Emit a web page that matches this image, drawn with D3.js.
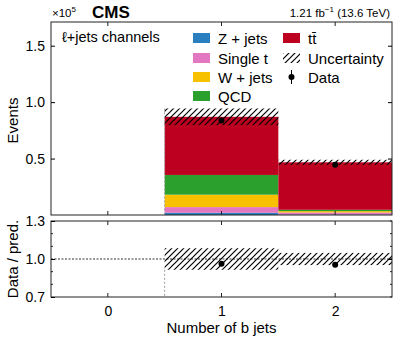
<!DOCTYPE html>
<html>
<head>
<meta charset="utf-8">
<script src="https://cdn.jsdelivr.net/npm/d3@7"></script>
<style>
  body { margin: 0; background: #fff; }
  text { font-family: "Liberation Sans", Arial, sans-serif; fill: #000; }
</style>
</head>
<body>
<div id="chart"></div>
<script>
// values in units of 1e5 events
const bins = [0, 1, 2];
const zjets = [0, 0.020, 0.004];
const singleT = [0, 0.050, 0.018];
const wjets = [0, 0.110, 0.012];
const qcd = [0, 0.175, 0.012];
const ttbar = [0, 0.515, 0.421];
const dataVals = [0, 0.837, 0.446];
const relUnc = [0, 0.085, 0.048];
const mainTicks = [0.5, 1.0, 1.5];
const ratioTicks = [0.7, 1.0, 1.3];

const keys = ['zjets', 'singleT', 'wjets', 'qcd', 'ttbar'];
const colors = { zjets: '#2a7fc0', singleT: '#e377c2', wjets: '#f8c100', qcd: '#2ca02c', ttbar: '#bd001f' };
const table = bins.map((b, i) => ({
  bin: b, zjets: zjets[i], singleT: singleT[i], wjets: wjets[i], qcd: qcd[i], ttbar: ttbar[i]
}));
const totals = table.map(d => keys.reduce((s, k) => s + d[k], 0));

const width = 407, height = 339;
const left = 51, right = 392;
const main = { top: 22, bottom: 215 };
const ratio = { top: 221, bottom: 297 };

const svg = d3.select('#chart').append('svg')
  .attr('width', width).attr('height', height);

const defs = svg.append('defs');
const pat = defs.append('pattern')
  .attr('id', 'hatch').attr('patternUnits', 'userSpaceOnUse')
  .attr('width', 6).attr('height', 6);
pat.append('path')
  .attr('d', 'M0,6 L6,0 M-1.5,1.5 L1.5,-1.5 M4.5,7.5 L7.5,4.5')
  .attr('stroke', '#000').attr('stroke-width', 1.2);

const x = d3.scaleLinear().domain([-0.5, 2.5]).range([left, right]);
const y = d3.scaleLinear().domain([0, 1.71]).range([main.bottom, main.top]);
const yr = d3.scaleLinear().domain([0.7, 1.3]).range([ratio.bottom, ratio.top]);

defs.append('clipPath').attr('id', 'clipMain').append('rect')
  .attr('x', left).attr('y', main.top).attr('width', right - left).attr('height', main.bottom - main.top);
defs.append('clipPath').attr('id', 'clipRatio').append('rect')
  .attr('x', left).attr('y', ratio.top).attr('width', right - left).attr('height', ratio.bottom - ratio.top);

// stacked histogram
const stack = d3.stack().keys(keys)(table);
const gMain = svg.append('g').attr('clip-path', 'url(#clipMain)');
gMain.selectAll('g.layer')
  .data(stack)
  .join('g')
    .attr('fill', d => colors[d.key])
  .selectAll('rect')
  .data(d => d.filter(v => v[1] > v[0]))
  .join('rect')
    .attr('x', d => x(d.data.bin - 0.5))
    .attr('width', d => x(d.data.bin + 0.5) - x(d.data.bin - 0.5))
    .attr('y', d => y(d[1]))
    .attr('height', d => y(d[0]) - y(d[1]));

// uncertainty band
const withMC = bins.filter((b, i) => totals[i] > 0);
gMain.selectAll('rect.unc')
  .data(withMC)
  .join('rect')
    .attr('class', 'unc')
    .attr('x', b => x(b - 0.5))
    .attr('width', b => x(b + 0.5) - x(b - 0.5))
    .attr('y', b => y(totals[b] * (1 + relUnc[b])))
    .attr('height', b => y(totals[b] * (1 - relUnc[b])) - y(totals[b] * (1 + relUnc[b])))
    .attr('fill', 'url(#hatch)');

// edge of first filled bin
const firstBin = d3.min(withMC);
gMain.append('line')
  .attr('x1', x(firstBin - 0.5)).attr('x2', x(firstBin - 0.5))
  .attr('y1', y(totals[firstBin] * (1 + relUnc[firstBin]))).attr('y2', main.bottom)
  .attr('stroke', '#999').attr('stroke-dasharray', '2,2');

// data points
const dataPts = bins.filter((b, i) => dataVals[i] > 0);
gMain.selectAll('circle.data')
  .data(dataPts)
  .join('circle')
    .attr('cx', b => x(b)).attr('cy', b => y(dataVals[b]))
    .attr('r', 3).attr('fill', '#000');

// ratio panel
const gRatio = svg.append('g').attr('clip-path', 'url(#clipRatio)');
gRatio.append('line')
  .attr('x1', left).attr('x2', right).attr('y1', yr(1)).attr('y2', yr(1))
  .attr('stroke', '#000').attr('stroke-width', 0.8).attr('stroke-dasharray', '2,1.5');
gRatio.selectAll('rect.unc')
  .data(withMC)
  .join('rect')
    .attr('x', b => x(b - 0.5))
    .attr('width', b => x(b + 0.5) - x(b - 0.5))
    .attr('y', b => yr(1 + relUnc[b]))
    .attr('height', b => yr(1 - relUnc[b]) - yr(1 + relUnc[b]))
    .attr('fill', 'url(#hatch)');
gRatio.append('line')
  .attr('x1', x(firstBin - 0.5)).attr('x2', x(firstBin - 0.5))
  .attr('y1', yr(1 - relUnc[firstBin])).attr('y2', ratio.bottom)
  .attr('stroke', '#999').attr('stroke-dasharray', '2,2');
gRatio.selectAll('circle.data')
  .data(dataPts)
  .join('circle')
    .attr('cx', b => x(b)).attr('cy', b => yr(dataVals[b] / totals[b]))
    .attr('r', 3).attr('fill', '#000');

// axes with inward ticks
const tickFont = '14px';
function frame(top, bottom) {
  svg.append('rect')
    .attr('x', left).attr('y', top).attr('width', right - left).attr('height', bottom - top)
    .attr('fill', 'none').attr('stroke', '#222').attr('stroke-width', 1);
}
function xTicks(top, bottom) {
  bins.forEach(b => {
    svg.append('line').attr('x1', x(b)).attr('x2', x(b)).attr('y1', bottom).attr('y2', bottom - 4).attr('stroke', '#222');
    svg.append('line').attr('x1', x(b)).attr('x2', x(b)).attr('y1', top).attr('y2', top + 4).attr('stroke', '#222');
  });
}
frame(main.top, main.bottom);
frame(ratio.top, ratio.bottom);
xTicks(main.top, main.bottom);
xTicks(ratio.top, ratio.bottom);

const yAxisMain = d3.axisLeft(y).tickValues(mainTicks).tickSize(-4).tickPadding(6).tickFormat(d3.format('.1f'));
svg.append('g').attr('transform', `translate(${left},0)`).call(yAxisMain)
  .call(g => g.select('.domain').remove())
  .attr('font-size', tickFont).attr('font-family', '"Liberation Sans", Arial, sans-serif');
svg.append('g').attr('transform', `translate(${right},0)`)
  .call(d3.axisRight(y).tickValues(mainTicks).tickSize(-4).tickFormat(''))
  .call(g => g.select('.domain').remove());

const yAxisRatio = d3.axisLeft(yr).tickValues(ratioTicks).tickSize(-4).tickPadding(6).tickFormat(d3.format('.1f'));
svg.append('g').attr('transform', `translate(${left},0)`).call(yAxisRatio)
  .call(g => g.select('.domain').remove())
  .attr('font-size', tickFont).attr('font-family', '"Liberation Sans", Arial, sans-serif');
const minorR = d3.range(0.8, 1.25, 0.1).filter(v => Math.abs(v - 1) > 1e-6);
[left, right].forEach(px => {
  svg.append('g').selectAll('line')
    .data(minorR.concat(px === right ? ratioTicks : []))
    .join('line')
      .attr('x1', px).attr('x2', px === left ? px + 2 : px - 2)
      .attr('y1', d => yr(d)).attr('y2', d => yr(d))
      .attr('stroke', '#222');
});
svg.append('g').attr('transform', `translate(${right},0)`)
  .call(d3.axisRight(yr).tickValues([1.0]).tickSize(-4).tickFormat(''))
  .call(g => g.select('.domain').remove());

svg.append('g').attr('transform', `translate(0,${ratio.bottom})`)
  .call(d3.axisBottom(x).tickValues(bins).tickSize(0).tickPadding(9).tickFormat(d3.format('d')))
  .call(g => g.select('.domain').remove())
  .attr('font-size', tickFont).attr('font-family', '"Liberation Sans", Arial, sans-serif');

// axis titles
svg.append('text').attr('transform', `translate(18,${(main.top + main.bottom) / 2 + 2}) rotate(-90)`)
  .attr('text-anchor', 'middle').attr('font-size', '15px').text('Events');
svg.append('text').attr('transform', `translate(18,${(ratio.top + ratio.bottom) / 2}) rotate(-90)`)
  .attr('text-anchor', 'middle').attr('font-size', '15px').text('Data / pred.');
svg.append('text').attr('x', x(1)).attr('y', 333)
  .attr('text-anchor', 'middle').attr('font-size', '15px').text('Number of b jets');

// header
const mult = svg.append('text').attr('x', 52).attr('y', 17).attr('font-size', '11.5px');
mult.append('tspan').text('×10');
mult.append('tspan').attr('dy', -5).attr('font-size', '8px').text('5');
svg.append('text').attr('x', 92).attr('y', 18).attr('font-size', '17px').attr('font-weight', 'bold').text('CMS');
const lumi = svg.append('text').attr('x', 390).attr('y', 17).attr('text-anchor', 'end').attr('font-size', '11.5px');
lumi.append('tspan').text('1.21 fb');
lumi.append('tspan').attr('dy', -5).attr('font-size', '8px').text('−1');
lumi.append('tspan').attr('dy', 5).text(' (13.6 TeV)');

svg.append('text').attr('x', 62).attr('y', 42).attr('font-size', '14.5px').text('ℓ+jets channels');

// legend
const legend = svg.append('g').attr('font-size', '15px');
const rowY = [38, 58, 77, 96];
const col1 = [['zjets', 'Z + jets'], ['singleT', 'Single t'], ['wjets', 'W + jets'], ['qcd', 'QCD']];
col1.forEach(([k, label], i) => {
  legend.append('rect').attr('x', 193).attr('y', rowY[i] - 5).attr('width', 17).attr('height', 10).attr('fill', colors[k]);
  legend.append('text').attr('x', 218).attr('y', rowY[i] + 5.5).text(label);
});
legend.append('rect').attr('x', 283).attr('y', rowY[0] - 5).attr('width', 17).attr('height', 10).attr('fill', colors.ttbar);
legend.append('text').attr('x', 308).attr('y', rowY[0] + 5.5).text('tt\u0304');
legend.append('rect').attr('x', 283).attr('y', rowY[1] - 5).attr('width', 17).attr('height', 10).attr('fill', 'url(#hatch)');
legend.append('text').attr('x', 308).attr('y', rowY[1] + 5.5).text('Uncertainty');
legend.append('line').attr('x1', 291.5).attr('x2', 291.5).attr('y1', rowY[2] - 7).attr('y2', rowY[2] + 7).attr('stroke', '#000');
legend.append('circle').attr('cx', 291.5).attr('cy', rowY[2]).attr('r', 3);
legend.append('text').attr('x', 308).attr('y', rowY[2] + 5.5).text('Data');
</script>
</body>
</html>
